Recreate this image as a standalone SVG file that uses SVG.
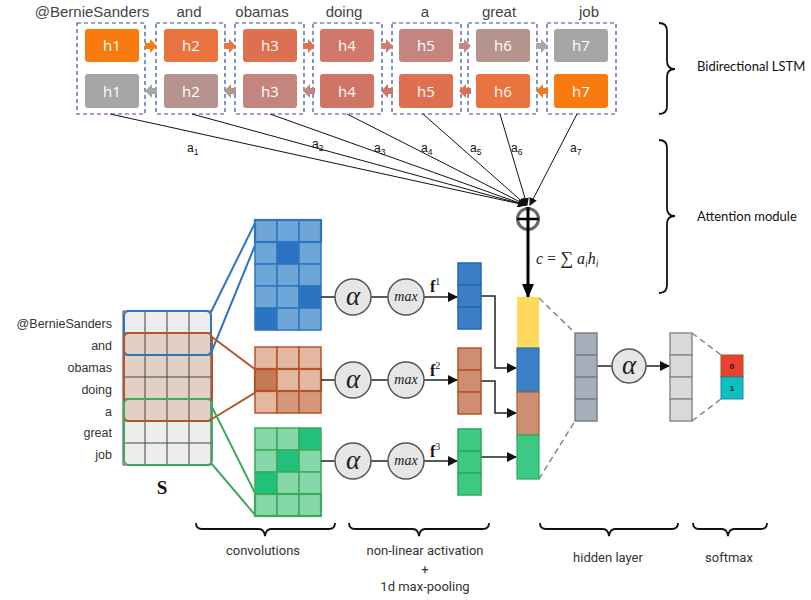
<svg xmlns="http://www.w3.org/2000/svg" width="811" height="600" viewBox="0 0 811 600">
<defs>
<style>
.word{font-family:"Liberation Sans",Arial,sans-serif;font-size:15px;fill:#444;text-anchor:middle}
.sw{font-family:"Liberation Sans",Arial,sans-serif;font-size:12.5px;fill:#333;text-anchor:end}
.dash{fill:none;stroke:#2F4F9A;stroke-width:1.2;stroke-dasharray:4,3}
.hl{font-family:"Open Sans","Noto Sans",sans-serif;font-size:15px;fill:#fff;text-anchor:middle}
.att{stroke:#111;stroke-width:1;fill:none}
.al{font-family:"Liberation Sans",Arial,sans-serif;font-size:12px;fill:#111}
.side{font-family:Lato,"Open Sans",sans-serif;font-size:13px;fill:#111}
.brace{fill:none;stroke:#111;stroke-width:1.8}
.bl{font-family:Roboto,"Liberation Sans",sans-serif;font-size:13px;fill:#333;text-anchor:middle}
.grid{stroke:#444;stroke-width:1;fill:none}
.circ{fill:#E6E6E6;stroke:#555;stroke-width:1.5}
.conn{stroke:#222;stroke-width:1.5;fill:none}
.gdash{stroke:#888;stroke-width:1.5;stroke-dasharray:6,4;fill:none}
.math{font-family:"Liberation Serif","DejaVu Serif",serif;font-style:italic;fill:#222}
</style>
<marker id="ah" markerWidth="8" markerHeight="8" refX="7" refY="4" orient="auto" markerUnits="userSpaceOnUse"><path d="M0,0 L8,4 L0,8 z" fill="#111"/></marker>
<marker id="ab" markerWidth="10" markerHeight="10" refX="9" refY="5" orient="auto" markerUnits="userSpaceOnUse"><path d="M0,0 L10,5 L0,10 z" fill="#111"/></marker>
<marker id="abig" markerWidth="14" markerHeight="12" refX="13" refY="6" orient="auto" markerUnits="userSpaceOnUse"><path d="M0,0 L14,6 L0,12 z" fill="#000"/></marker>
</defs>
<rect width="811" height="600" fill="#fff"/>

<!-- words -->
<g id="words">
<text class="word" x="92" y="17">@BernieSanders</text>
<text class="word" x="189" y="17">and</text>
<text class="word" x="262" y="17">obamas</text>
<text class="word" x="344" y="17">doing</text>
<text class="word" x="425" y="17">a</text>
<text class="word" x="499" y="17">great</text>
<text class="word" x="589" y="17">job</text>
</g>

<!-- LSTM cells -->
<g id="lstm1"><rect class="dash" x="77" y="23" width="68" height="91"/>
<rect x="85" y="29" width="54" height="33" rx="3" fill="#F97B0F"/><text class="hl" x="112" y="51">h1</text>
<rect x="85" y="74" width="54" height="34" rx="3" fill="#A6A6A6"/><text class="hl" x="112" y="97">h1</text></g>
<g id="lstm2"><rect class="dash" x="156" y="23" width="69" height="91"/>
<rect x="164" y="29" width="54" height="33" rx="3" fill="#EA7340"/><text class="hl" x="191" y="51">h2</text>
<rect x="164" y="74" width="54" height="34" rx="3" fill="#B5938F"/><text class="hl" x="191" y="97">h2</text></g>
<g id="lstm3"><rect class="dash" x="235" y="23" width="69" height="91"/>
<rect x="243" y="29" width="54" height="33" rx="3" fill="#DE7052"/><text class="hl" x="270" y="51">h3</text>
<rect x="243" y="74" width="54" height="34" rx="3" fill="#C3857E"/><text class="hl" x="270" y="97">h3</text></g>
<g id="lstm4"><rect class="dash" x="313" y="23" width="69" height="91"/>
<rect x="320" y="29" width="54" height="33" rx="3" fill="#D0796B"/><text class="hl" x="347" y="51">h4</text>
<rect x="320" y="74" width="54" height="34" rx="3" fill="#D07465"/><text class="hl" x="347" y="97">h4</text></g>
<g id="lstm5"><rect class="dash" x="392" y="23" width="69" height="91"/>
<rect x="399" y="29" width="54" height="33" rx="3" fill="#C3857E"/><text class="hl" x="426" y="51">h5</text>
<rect x="399" y="74" width="54" height="34" rx="3" fill="#DE7052"/><text class="hl" x="426" y="97">h5</text></g>
<g id="lstm6"><rect class="dash" x="468" y="23" width="69" height="91"/>
<rect x="476" y="29" width="54" height="33" rx="3" fill="#B5938F"/><text class="hl" x="503" y="51">h6</text>
<rect x="476" y="74" width="54" height="34" rx="3" fill="#EA7340"/><text class="hl" x="503" y="97">h6</text></g>
<g id="lstm7"><rect class="dash" x="547" y="23" width="69" height="91"/>
<rect x="554" y="29" width="54" height="33" rx="3" fill="#A6A6A6"/><text class="hl" x="581" y="51">h7</text>
<rect x="554" y="74" width="54" height="34" rx="3" fill="#F97B0F"/><text class="hl" x="581" y="97">h7</text></g>

<!-- LSTM arrows -->
<g id="lstm-arrows">
<path d="M145,43 h5 v-4 l7,7 l-7,7 v-4 h-5 z" fill="#F97B0F"/>
<path d="M224,43 h5 v-4 l7,7 l-7,7 v-4 h-5 z" fill="#EA7340"/>
<path d="M303,43 h5 v-4 l7,7 l-7,7 v-4 h-5 z" fill="#DE7052"/>
<path d="M381,43 h5 v-4 l7,7 l-7,7 v-4 h-5 z" fill="#CF7E70"/>
<path d="M459,43 h5 v-4 l7,7 l-7,7 v-4 h-5 z" fill="#C08A84"/>
<path d="M536,43 h5 v-4 l7,7 l-7,7 v-4 h-5 z" fill="#AEA6A6"/>
<path d="M145,91 l7,-7 v4 h5 v6 h-5 v4 z" fill="#A6A6A6"/>
<path d="M224,91 l7,-7 v4 h5 v6 h-5 v4 z" fill="#B5938F"/>
<path d="M303,91 l7,-7 v4 h5 v6 h-5 v4 z" fill="#C3857E"/>
<path d="M381,91 l7,-7 v4 h5 v6 h-5 v4 z" fill="#D07465"/>
<path d="M459,91 l7,-7 v4 h5 v6 h-5 v4 z" fill="#DE7052"/>
<path d="M536,91 l7,-7 v4 h5 v6 h-5 v4 z" fill="#F2791F"/>
</g>

<!-- braces right -->
<g id="brace-lstm"><path class="brace" d="M659,23 q8,0 8,8 V61 q0,8 8,8 q-8,0 -8,8 V106 q0,8 -8,8"/>
<text class="side" x="697" y="71">Bidirectional LSTM</text></g>
<g id="brace-att"><path class="brace" d="M659,140 q8,0 8,8 V208 q0,8 8,8 q-8,0 -8,8 V285 q0,8 -8,8"/>
<text class="side" x="697" y="221">Attention module</text></g>

<!-- attention connectors -->
<g id="attention-connectors">
<line class="att" x1="110" y1="114" x2="525" y2="205" marker-end="url(#ah)"/>
<line class="att" x1="192" y1="114" x2="525" y2="205" marker-end="url(#ah)"/>
<line class="att" x1="270" y1="114" x2="525" y2="205" marker-end="url(#ah)"/>
<line class="att" x1="347" y1="114" x2="526" y2="205" marker-end="url(#ah)"/>
<line class="att" x1="423" y1="114" x2="526" y2="205" marker-end="url(#ah)"/>
<line class="att" x1="500" y1="114" x2="527" y2="205" marker-end="url(#ah)"/>
<line class="att" x1="577" y1="114" x2="530" y2="205" marker-end="url(#ah)"/>
<text class="al" x="187" y="152">a<tspan font-size="8.5" dy="3">1</tspan></text>
<text class="al" x="312" y="148">a<tspan font-size="8.5" dy="3">2</tspan></text>
<text class="al" x="374" y="152">a<tspan font-size="8.5" dy="3">3</tspan></text>
<text class="al" x="421" y="152">a<tspan font-size="8.5" dy="3">4</tspan></text>
<text class="al" x="470" y="152">a<tspan font-size="8.5" dy="3">5</tspan></text>
<text class="al" x="511" y="152">a<tspan font-size="8.5" dy="3">6</tspan></text>
<text class="al" x="570" y="152">a<tspan font-size="8.5" dy="3">7</tspan></text>
</g>

<!-- sum node -->
<g id="sum">
<circle cx="528" cy="219" r="10.5" fill="none" stroke="#666" stroke-width="3"/>
<line x1="517" y1="219" x2="539" y2="219" stroke="#000" stroke-width="2.5"/>
<line x1="528" y1="207" x2="528" y2="297" stroke="#000" stroke-width="3" marker-end="url(#abig)"/>
<text class="math" x="536" y="264" font-size="16">c<tspan font-style="normal"> = </tspan><tspan font-style="normal" font-size="18">∑</tspan> a<tspan font-size="10" dy="3">i</tspan><tspan dy="-3">h</tspan><tspan font-size="10" dy="3">i</tspan></text>
</g>

<!-- sentence matrix S -->
<g id="S">
<text class="sw" x="112" y="328">@BernieSanders</text>
<text class="sw" x="112" y="350">and</text>
<text class="sw" x="112" y="372">obamas</text>
<text class="sw" x="112" y="394">doing</text>
<text class="sw" x="112" y="416">a</text>
<text class="sw" x="112" y="437">great</text>
<text class="sw" x="112" y="459">job</text>
<rect x="123" y="311" width="88" height="154" fill="#EDEDED"/>
<rect x="123" y="333" width="88" height="88" fill="#E3D0C5"/>
<path class="grid" d="M123,311 h88 v154 h-88 z M145,311 v154 M167,311 v154 M189,311 v154 M123,333 h88 M123,355 h88 M123,377 h88 M123,399 h88 M123,421 h88 M123,443 h88"/>
<rect x="124" y="311" width="87" height="44" rx="5" fill="none" stroke="#2E75C0" stroke-width="2"/>
<rect x="124" y="333" width="88" height="88" rx="5" fill="none" stroke="#B5532A" stroke-width="2"/>
<rect x="124" y="399" width="88" height="66" rx="5" fill="none" stroke="#3CAA5A" stroke-width="2"/>
<text x="162" y="494" font-family="Liberation Serif,serif" font-weight="bold" font-size="19" text-anchor="middle" fill="#111">S</text>
</g>

<!-- conv links -->
<g id="conv-links" fill="none" stroke-width="2">
<line x1="211" y1="312" x2="256" y2="221" stroke="#2E75C0"/>
<line x1="211" y1="353" x2="256" y2="243" stroke="#2E75C0"/>
<line x1="212" y1="337" x2="256" y2="370" stroke="#B5532A"/>
<line x1="212" y1="419" x2="256" y2="392" stroke="#B5532A"/>
<line x1="211" y1="405" x2="256" y2="495" stroke="#3CAA5A"/>
<line x1="211" y1="463" x2="256" y2="516" stroke="#3CAA5A"/>
</g>

<!-- blue conv matrix -->
<g id="conv-blue" stroke="#2E75C0" stroke-width="1.5">
<rect x="255" y="220" width="22" height="22" fill="#6FA6D8"/><rect x="277" y="220" width="22" height="22" fill="#6FA6D8"/><rect x="299" y="220" width="22" height="22" fill="#6FA6D8"/>
<rect x="255" y="242" width="22" height="22" fill="#6FA6D8"/><rect x="277" y="242" width="22" height="22" fill="#2A73C0"/><rect x="299" y="242" width="22" height="22" fill="#6FA6D8"/>
<rect x="255" y="264" width="22" height="22" fill="#6FA6D8"/><rect x="277" y="264" width="22" height="22" fill="#6FA6D8"/><rect x="299" y="264" width="22" height="22" fill="#6FA6D8"/>
<rect x="255" y="286" width="22" height="22" fill="#6FA6D8"/><rect x="277" y="286" width="22" height="22" fill="#6FA6D8"/><rect x="299" y="286" width="22" height="22" fill="#2A73C0"/>
<rect x="255" y="308" width="22" height="22" fill="#2A73C0"/><rect x="277" y="308" width="22" height="22" fill="#6FA6D8"/><rect x="299" y="308" width="22" height="22" fill="#6FA6D8"/>
<rect x="255" y="220" width="66" height="22" fill="none" stroke-width="2.2"/>
</g>

<!-- orange conv matrix -->
<g id="conv-orange" stroke="#B5532A" stroke-width="1.5">
<rect x="255" y="347" width="22" height="22" fill="#E3B8A0"/><rect x="277" y="347" width="22" height="22" fill="#E3B8A0"/><rect x="299" y="347" width="22" height="22" fill="#E3B8A0"/>
<rect x="255" y="369" width="22" height="22" fill="#C47A55"/><rect x="277" y="369" width="22" height="22" fill="#E3B8A0"/><rect x="299" y="369" width="22" height="22" fill="#E3B8A0"/>
<rect x="255" y="391" width="22" height="22" fill="#E3B8A0"/><rect x="277" y="391" width="22" height="22" fill="#D4977A"/><rect x="299" y="391" width="22" height="22" fill="#D4977A"/>
<rect x="255" y="369" width="66" height="22" fill="none" stroke-width="2.2"/>
</g>

<!-- green conv matrix -->
<g id="conv-green" stroke="#3CAA5A" stroke-width="1.5">
<rect x="255" y="428" width="22" height="22" fill="#85D9A8"/><rect x="277" y="428" width="22" height="22" fill="#85D9A8"/><rect x="299" y="428" width="22" height="22" fill="#22C07A"/>
<rect x="255" y="450" width="22" height="22" fill="#85D9A8"/><rect x="277" y="450" width="22" height="22" fill="#22C07A"/><rect x="299" y="450" width="22" height="22" fill="#85D9A8"/>
<rect x="255" y="472" width="22" height="22" fill="#22C07A"/><rect x="277" y="472" width="22" height="22" fill="#85D9A8"/><rect x="299" y="472" width="22" height="22" fill="#85D9A8"/>
<rect x="255" y="494" width="22" height="22" fill="#85D9A8"/><rect x="277" y="494" width="22" height="22" fill="#85D9A8"/><rect x="299" y="494" width="22" height="22" fill="#85D9A8"/>
<rect x="255" y="494" width="66" height="22" fill="none" stroke-width="2.2"/>
</g>

<!-- connectors -->
<g id="connectors">
<line class="conn" x1="321" y1="297" x2="335" y2="297"/><line class="conn" x1="371" y1="297" x2="388" y2="297"/><line class="conn" x1="424" y1="297" x2="457" y2="297" marker-end="url(#ab)"/>
<line class="conn" x1="321" y1="380" x2="335" y2="380"/><line class="conn" x1="371" y1="380" x2="388" y2="380"/><line class="conn" x1="424" y1="380" x2="457" y2="380" marker-end="url(#ab)"/>
<line class="conn" x1="321" y1="461" x2="335" y2="461"/><line class="conn" x1="371" y1="461" x2="388" y2="461"/><line class="conn" x1="424" y1="461" x2="457" y2="461" marker-end="url(#ab)"/>
<path class="conn" d="M481,296 H495 V368 H516" marker-end="url(#ab)"/>
<path class="conn" d="M481,381 H495 V413 H516" marker-end="url(#ab)"/>
<path class="conn" d="M481,457 H516" marker-end="url(#ab)"/>
<line class="gdash" x1="539" y1="298" x2="575" y2="333"/>
<line class="gdash" x1="539" y1="479" x2="575" y2="421"/>
<line class="conn" x1="597" y1="366" x2="612" y2="366"/>
<line class="conn" x1="646" y1="366" x2="669" y2="366" marker-end="url(#ab)"/>
<line class="gdash" x1="692" y1="333" x2="721" y2="355"/>
<line class="gdash" x1="692" y1="421" x2="721" y2="399"/>
</g>

<!-- activation and pooling nodes -->
<g id="act1"><circle class="circ" cx="353" cy="297" r="18"/><text class="math" x="353" y="305" font-size="27" text-anchor="middle">α</text></g>
<g id="max1"><circle class="circ" cx="406" cy="297" r="18"/><text class="math" x="406" y="301" font-size="14" text-anchor="middle">max</text></g>
<g id="act2"><circle class="circ" cx="353" cy="380" r="18"/><text class="math" x="353" y="388" font-size="27" text-anchor="middle">α</text></g>
<g id="max2"><circle class="circ" cx="406" cy="380" r="18"/><text class="math" x="406" y="384" font-size="14" text-anchor="middle">max</text></g>
<g id="act3"><circle class="circ" cx="353" cy="461" r="18"/><text class="math" x="353" y="469" font-size="27" text-anchor="middle">α</text></g>
<g id="max3"><circle class="circ" cx="406" cy="461" r="18"/><text class="math" x="406" y="465" font-size="14" text-anchor="middle">max</text></g>

<text x="430" y="292" font-family="Liberation Serif,serif" font-weight="bold" font-size="16" fill="#111">f<tspan font-size="10" font-weight="normal" dy="-7">1</tspan></text>
<text x="430" y="376" font-family="Liberation Serif,serif" font-weight="bold" font-size="16" fill="#111">f<tspan font-size="10" font-weight="normal" dy="-7">2</tspan></text>
<text x="430" y="457" font-family="Liberation Serif,serif" font-weight="bold" font-size="16" fill="#111">f<tspan font-size="10" font-weight="normal" dy="-7">3</tspan></text>

<!-- feature vectors -->
<g id="f1" stroke="#2468B0" stroke-width="1.5" fill="#3A7EC6">
<rect x="458" y="263" width="23" height="22"/><rect x="458" y="285" width="23" height="22"/><rect x="458" y="307" width="23" height="22"/></g>
<g id="f2" stroke="#B5532A" stroke-width="1.5" fill="#CE8E72">
<rect x="458" y="348" width="23" height="22"/><rect x="458" y="370" width="23" height="22"/><rect x="458" y="392" width="23" height="22"/></g>
<g id="f3" stroke="#27A862" stroke-width="1.5" fill="#3EC983">
<rect x="458" y="429" width="23" height="22"/><rect x="458" y="451" width="23" height="22"/><rect x="458" y="473" width="23" height="22"/></g>

<!-- concatenated vector -->
<g id="concat">
<rect x="517" y="297" width="22" height="51" fill="#FFD95A"/>
<rect x="517" y="348" width="22" height="44" fill="#3A7FC8" stroke="#2E6DB0" stroke-width="1.2"/>
<rect x="517" y="392" width="22" height="43" fill="#CD8F73" stroke="#B05A30" stroke-width="1.2"/>
<rect x="517" y="435" width="22" height="44" fill="#3EC983" stroke="#2BAA62" stroke-width="1.2"/>
</g>

<!-- hidden layer -->
<g id="hidden" fill="#A8AFBC" stroke="#808080" stroke-width="1.5">
<rect x="575" y="333" width="22" height="22"/><rect x="575" y="355" width="22" height="22"/><rect x="575" y="377" width="22" height="22"/><rect x="575" y="399" width="22" height="22"/></g>
<g id="act4"><circle class="circ" cx="629" cy="366" r="17"/><text class="math" x="629" y="374" font-size="27" text-anchor="middle">α</text></g>
<g id="output" fill="#D9D9D9" stroke="#8C8C8C" stroke-width="1.5">
<rect x="670" y="333" width="22" height="22"/><rect x="670" y="355" width="22" height="22"/><rect x="670" y="377" width="22" height="22"/><rect x="670" y="399" width="22" height="22"/></g>
<g id="softmax">
<rect x="721" y="355" width="22" height="22" fill="#E8412E" stroke="#A0522D" stroke-width="1"/>
<rect x="721" y="377" width="22" height="22" fill="#0BBFC4" stroke="#1F8A9A" stroke-width="1"/>
<text x="732" y="369" font-family="Liberation Sans,sans-serif" font-size="8" font-weight="bold" text-anchor="middle" fill="#111">0</text>
<text x="732" y="391" font-family="Liberation Sans,sans-serif" font-size="8" font-weight="bold" text-anchor="middle" fill="#111">1</text>
</g>

<!-- bottom braces -->
<g id="bottom-labels">
<path class="brace" stroke-width="1.5" d="M196,523 q0,6 6,6 H259 q5,0 6,7 q1,-7 6,-7 H329 q6,0 6,-6"/>
<path class="brace" stroke-width="1.5" d="M349,523 q0,6 6,6 H413 q5,0 6,7 q1,-7 6,-7 H483 q6,0 6,-6"/>
<path class="brace" stroke-width="1.5" d="M540,523 q0,6 6,6 H603 q5,0 6,7 q1,-7 6,-7 H672 q6,0 6,-6"/>
<path class="brace" stroke-width="1.5" d="M693,523 q0,6 6,6 H722 q5,0 6,7 q1,-7 6,-7 H761 q6,0 6,-6"/>
<text class="bl" x="263" y="555">convolutions</text>
<text class="bl" x="425" y="555">non-linear activation</text>
<text class="bl" x="425" y="574">+</text>
<text class="bl" x="425" y="591">1d max-pooling</text>
<text class="bl" x="608" y="562">hidden layer</text>
<text class="bl" x="729" y="562">softmax</text>
</g>
</svg>
